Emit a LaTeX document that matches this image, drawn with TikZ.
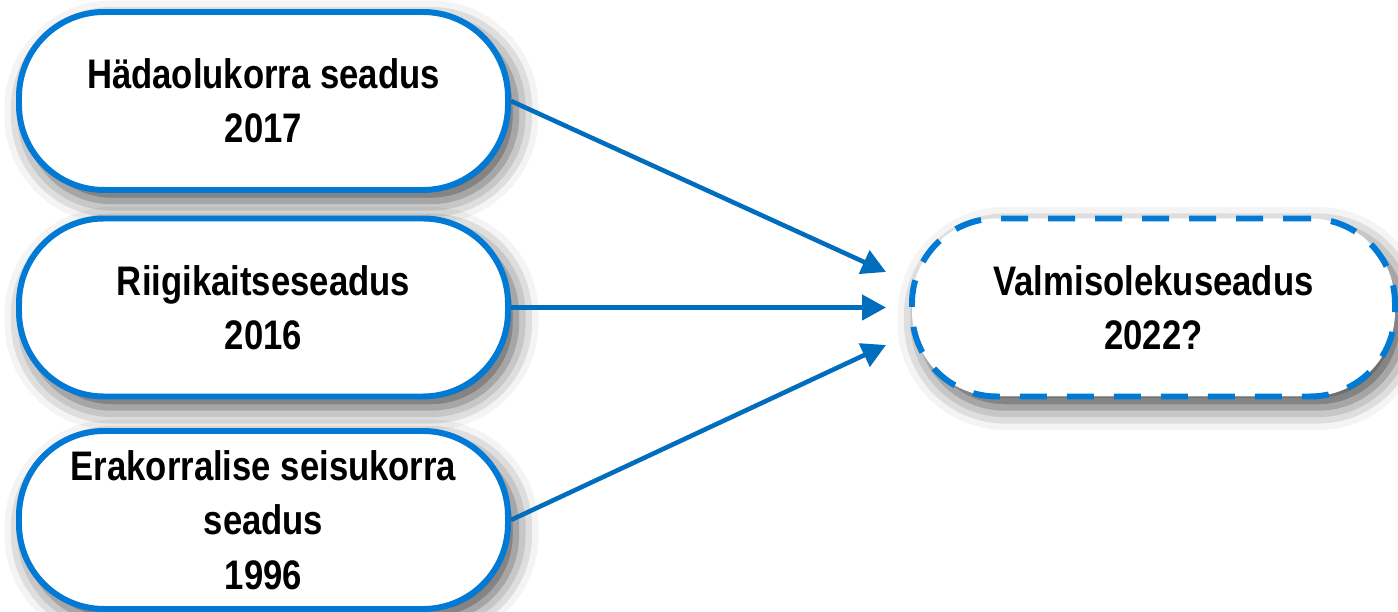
\documentclass[tikz,border=0pt]{standalone}
\usepackage{fontspec}
\newfontfamily\lawfont[FakeStretch=0.84]{Liberation Sans}
\usetikzlibrary{arrows.meta,shadows.blur}
\definecolor{lawblue}{RGB}{0,122,212}
\definecolor{arrblue}{RGB}{0,110,188}

\tikzset{
    lawbox/.style={draw=lawblue, line width=3.4pt, fill=white, rounded corners=1.7cm,
        minimum width=9.78cm, minimum height=3.56cm, align=center,
        font=\lawfont\bfseries\fontsize{23.5}{31}\selectfont,
        blur shadow={shadow xshift=0.16cm, shadow yshift=-0.22cm, shadow blur radius=0.45cm, shadow opacity=70}},
    newbox/.style={lawbox, dash pattern=on 0.54cm off 0.4cm, minimum width=9.66cm},
    arr/.style={-{Triangle[length=0.48cm,width=0.5cm]}, draw=arrblue, line width=2.6pt}
}

\begin{document}
\begin{tikzpicture}
        \useasboundingbox (0,0) rectangle (27.96,12.24);

        % existing laws
        \node[lawbox] (hada) at (5.27,10.22) {Hädaolukorra seadus\\2017};
        \node[lawbox] (riigi) at (5.27,6.09) {Riigikaitseseadus\\2016};
        \node[lawbox] (erak) at (5.27,1.84) {Erakorralise seisukorra\\seadus\\1996};

        % planned law
        \node[newbox] (valm) at (23.07,6.09) {Valmisolekuseadus\\2022?};

        % arrow ends in front of the dashed box
        \coordinate (in1) at ([shift={(-0.46,0.71)}]valm.west);
        \coordinate (in2) at ([shift={(-0.46,0)}]valm.west);
        \coordinate (in3) at ([shift={(-0.46,-0.75)}]valm.west);

        \draw[arr] (hada.east) -- (in1);
        \draw[arr] (riigi.east) -- (in2);
        \draw[arr] (erak.east) -- (in3);
    \end{tikzpicture}
\end{document}
